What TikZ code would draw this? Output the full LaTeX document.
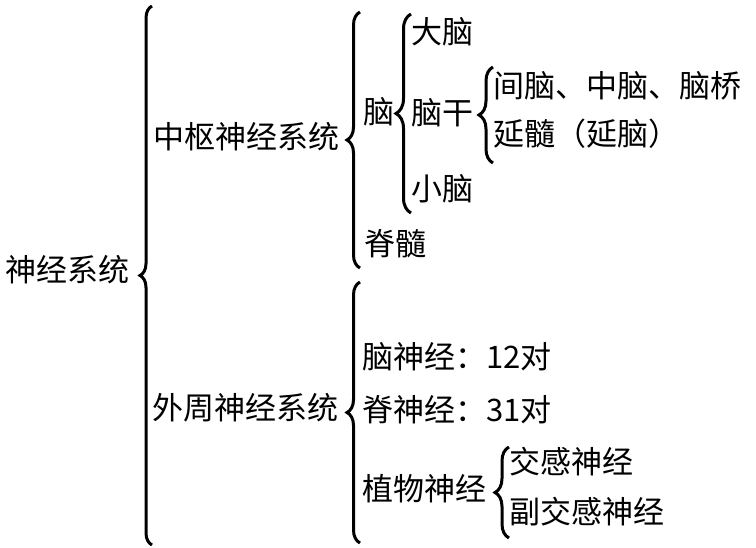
\documentclass[tikz,border=0pt]{standalone}
\usepackage{fontspec}
\newfontfamily\cjk{Noto Sans CJK SC}
\usetikzlibrary{decorations.pathreplacing}
\tikzset{
  lbl/.style={anchor=west, inner sep=0pt, font=\cjk\fontsize{31}{31}\selectfont},
  brc/.style={decorate, decoration={brace, amplitude=#1}, line width=3pt},
  brc/.default=13pt
}
\begin{document}
\begin{tikzpicture}[x=1pt, y=-1pt]
\useasboundingbox (0,0) rectangle (756,548);
% Draw nodes
        \node[lbl] (ns)  at (5,270)   {神经系统};
        \node[lbl] (zs)  at (153,137) {中枢神经系统};
        \node[lbl] (wz)  at (152,408) {外周神经系统};
        \node[lbl] (nao) at (363,112) {脑};
        \node[lbl] (dn)  at (411,32)  {大脑};
        \node[lbl] (ng)  at (411,113) {脑干};
        \node[lbl] (xn)  at (411,189) {小脑};
        \node[lbl] (jsu) at (364,244) {脊髓};
        \node[lbl] (jzq) at (493,86)  {间脑、中脑、脑桥};
        \node[lbl] (ys)  at (493,134) {延髓（延脑）};
        \node[lbl] (nsj) at (362,357) {脑神经：12对};
        \node[lbl] (jsj) at (362,410) {脊神经：31对};
        \node[lbl] (zw)  at (362,489) {植物神经};
        \node[lbl] (jg)  at (509,462) {交感神经};
        \node[lbl] (fjg) at (509,512) {副交感神经};
% Draw braces
        \coordinate (ns-t) at (152,6);   \coordinate (ns-b) at (152,545);
        \coordinate (zs-t) at (360,12);  \coordinate (zs-b) at (360,268);
        \coordinate (nao-t) at (411,14); \coordinate (nao-b) at (411,213);
        \coordinate (ng-t) at (493,67);  \coordinate (ng-b) at (493,163);
        \coordinate (wz-t) at (360,282); \coordinate (wz-b) at (360,543);
        \coordinate (zw-t) at (509,447); \coordinate (zw-b) at (509,538);
        \draw[brc=12pt] (ns-b) -- (ns-t);
        \draw[brc] (zs-b) -- (zs-t);
        \draw[brc=15pt] (nao-b) -- (nao-t);
        \draw[brc=14pt] (ng-b) -- (ng-t);
        \draw[brc] (wz-b) -- (wz-t);
        \draw[brc=14pt] (zw-b) -- (zw-t);
\end{tikzpicture}
\end{document}
